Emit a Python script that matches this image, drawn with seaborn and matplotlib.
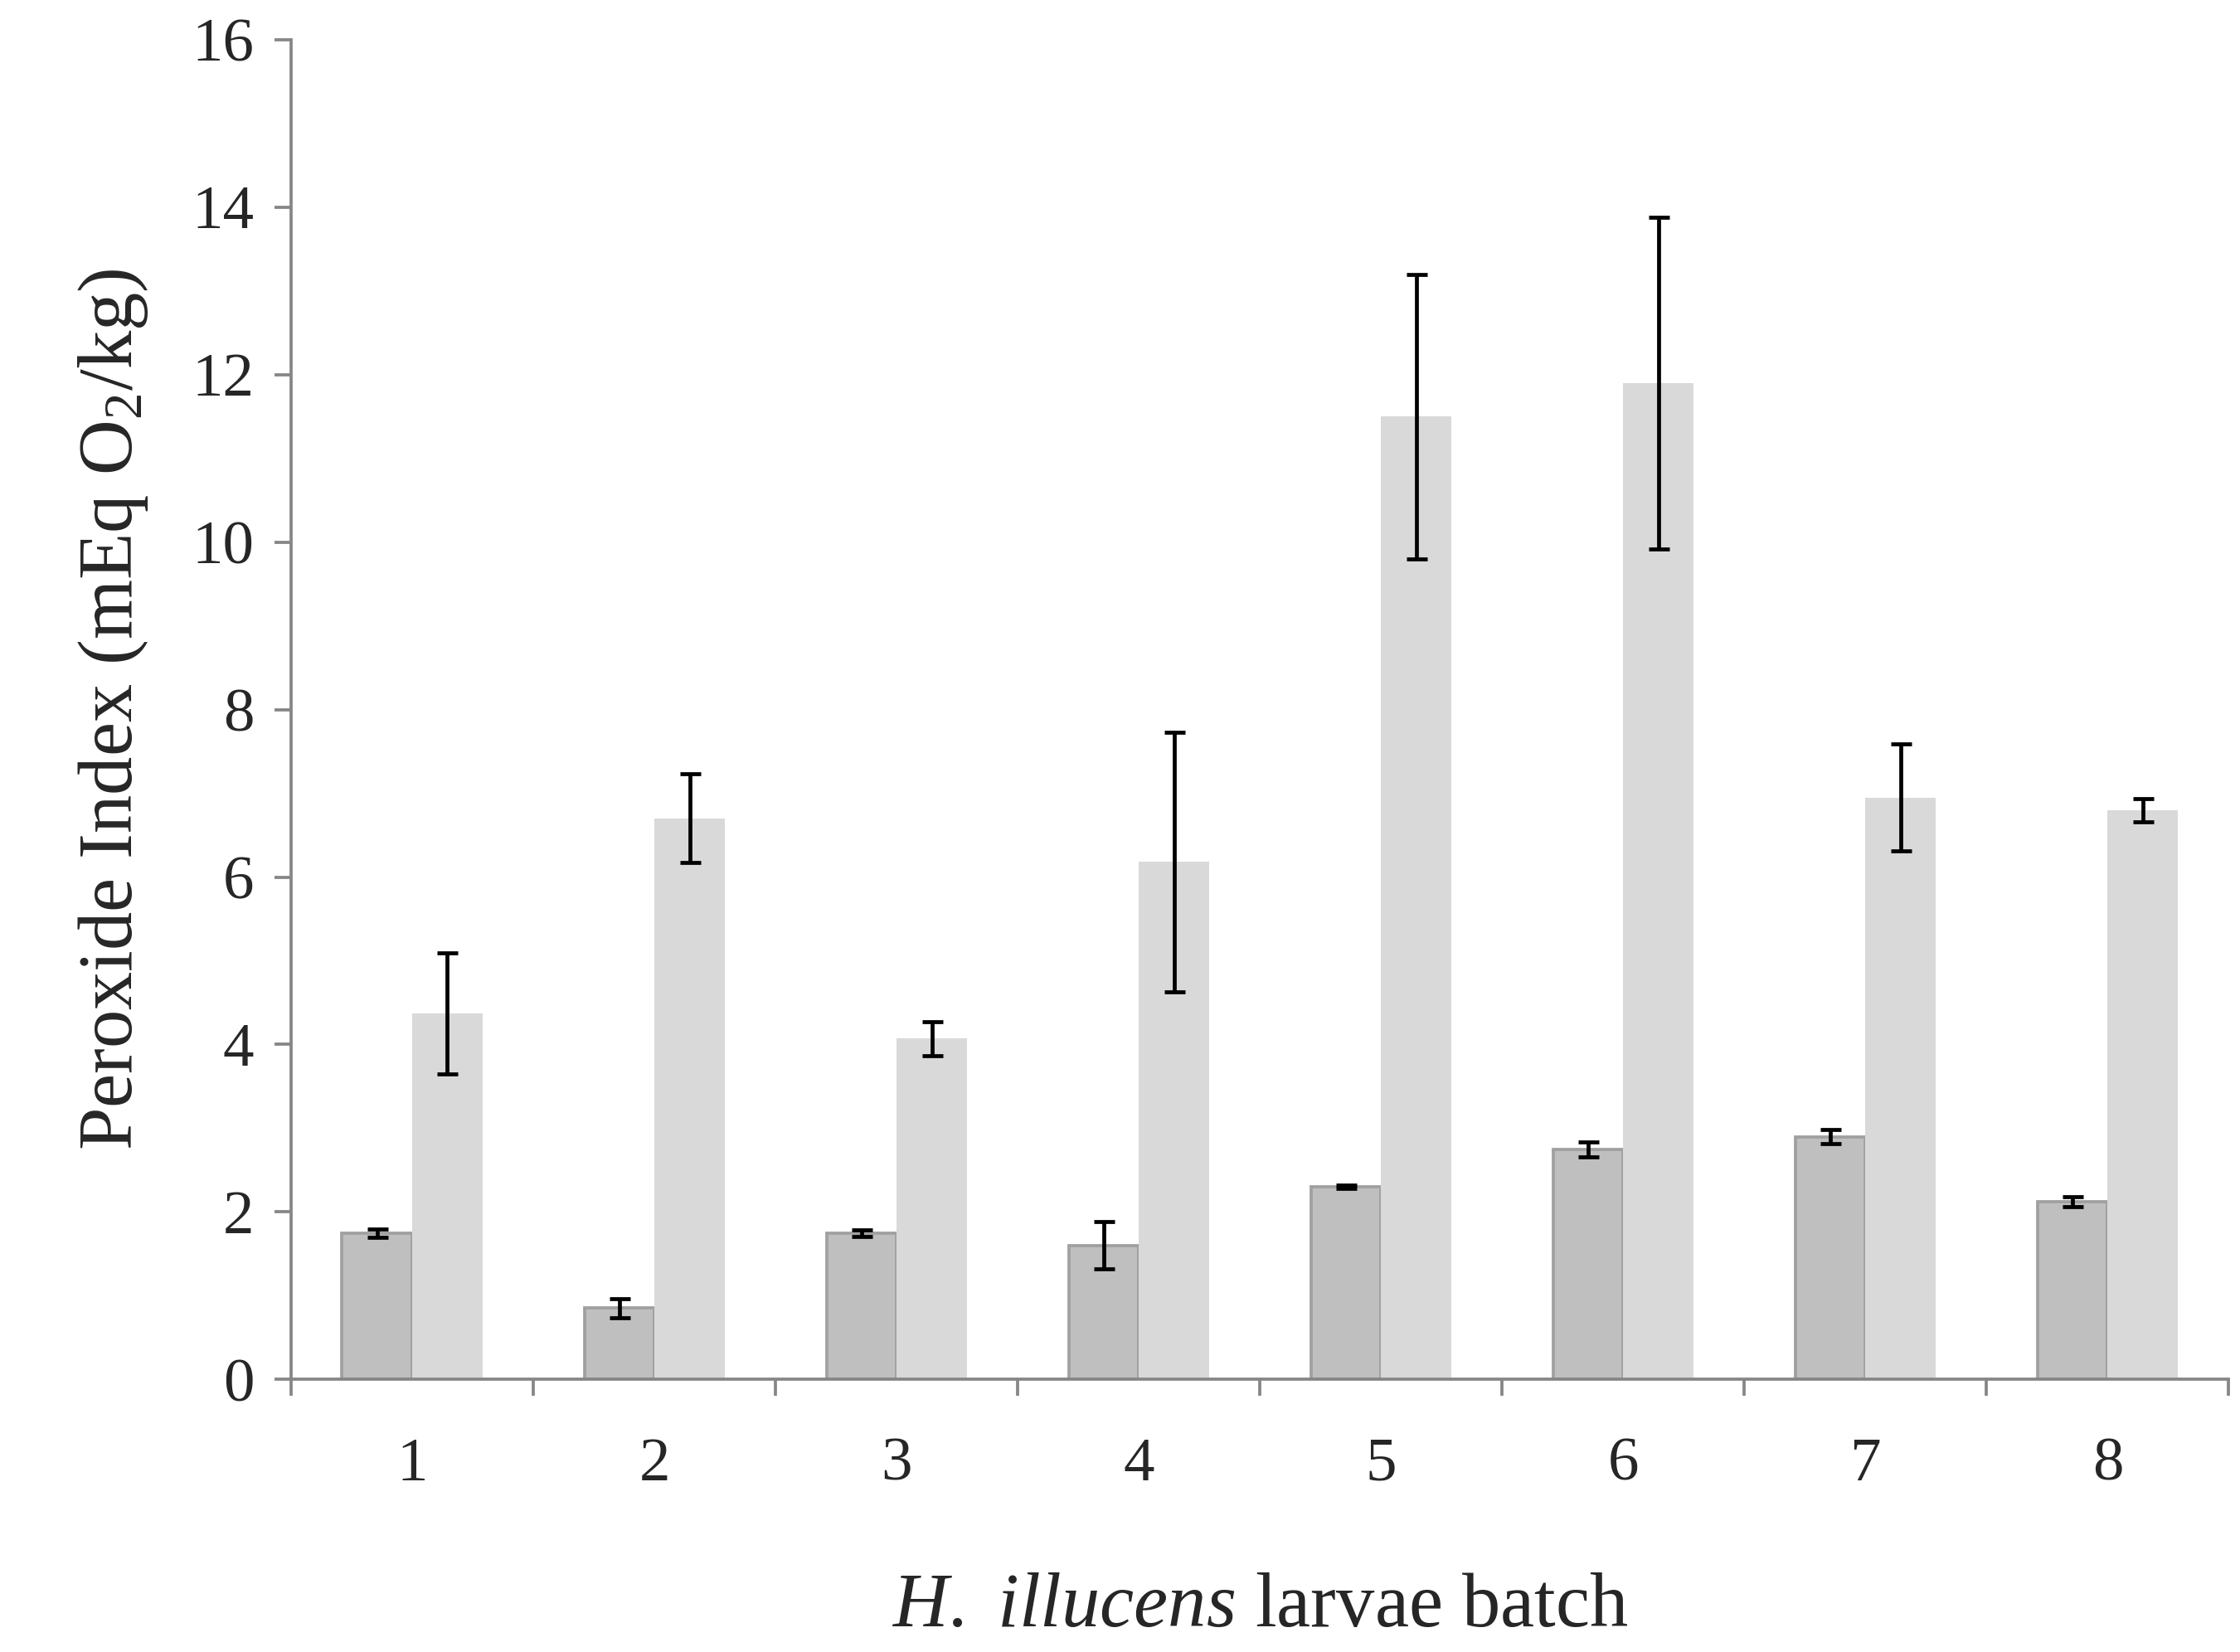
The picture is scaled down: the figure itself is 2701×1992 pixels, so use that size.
import matplotlib
matplotlib.use("Agg")
import matplotlib.pyplot as plt
import seaborn as sns
import pandas as pd

batches = ["1", "2", "3", "4", "5", "6", "7", "8"]
series_a = [1.75, 0.85, 1.75, 1.60, 2.30, 2.75, 2.90, 2.12]
err_a = [0.05, 0.11, 0.04, 0.28, 0.02, 0.09, 0.08, 0.06]
series_b = [4.37, 6.70, 4.07, 6.18, 11.50, 11.90, 6.95, 6.80]
err_b = [0.72, 0.53, 0.20, 1.55, 1.70, 1.98, 0.64, 0.14]

sns.set_style("white")
plt.rcParams["font.family"] = ["Liberation Serif", "DejaVu Serif"]
plt.rcParams["mathtext.fontset"] = "custom"
plt.rcParams["mathtext.rm"] = "Liberation Serif"
plt.rcParams["mathtext.it"] = "Liberation Serif:italic"

df = pd.DataFrame({
    "batch": batches * 2,
    "value": series_a + series_b,
    "group": ["A"] * 8 + ["B"] * 8,
})

fig = plt.figure(figsize=(2701 / 180, 1992 / 180), dpi=180)
ax = fig.add_axes([0.13, 0.165, 0.865, 0.811])
sns.barplot(data=df, x="batch", y="value", hue="group",
            palette=["#bfbfbf", "#d9d9d9"], width=0.58, errorbar=None,
            legend=False, ax=ax, saturation=1)

patches = ax.patches
errs = err_a + err_b
vals = series_a + series_b
for i, p in enumerate(patches[:16]):
    if i < 8:
        p.set_edgecolor("#a0a0a0")
        p.set_linewidth(1.5)
    else:
        p.set_edgecolor("none")
    x = p.get_x() + p.get_width() / 2
    ax.errorbar(x, vals[i], yerr=errs[i], color="black", capsize=5,
                elinewidth=1.9, capthick=1.9, fmt="none")

ax.set_ylim(0, 16)
ax.set_xlim(-0.5, 7.5)
ax.set_yticks(range(0, 17, 2))
ax.set_xticks([i - 0.5 for i in range(9)], minor=True)
ax.tick_params(axis="x", which="major", length=0, labelsize=30, pad=28)
ax.tick_params(axis="x", which="minor", length=8, width=1.5, color="#868686", direction="out")
ax.tick_params(axis="y", length=8, width=1.5, color="#868686", direction="out", labelsize=30, pad=10)
ax.xaxis.set_ticks_position("bottom")
ax.yaxis.set_ticks_position("left")
sns.despine(ax=ax)
for s in ["left", "bottom"]:
    ax.spines[s].set_color("#868686")
    ax.spines[s].set_linewidth(1.5)

ax.set_ylabel("Peroxide Index (mEq O$_2$/kg)", fontsize=37, labelpad=20)
ax.set_xlabel("$\\mathit{H.}$ $\\mathit{illucens}$ larvae batch", fontsize=37, labelpad=38)

fig.savefig("out.png", dpi=180)
